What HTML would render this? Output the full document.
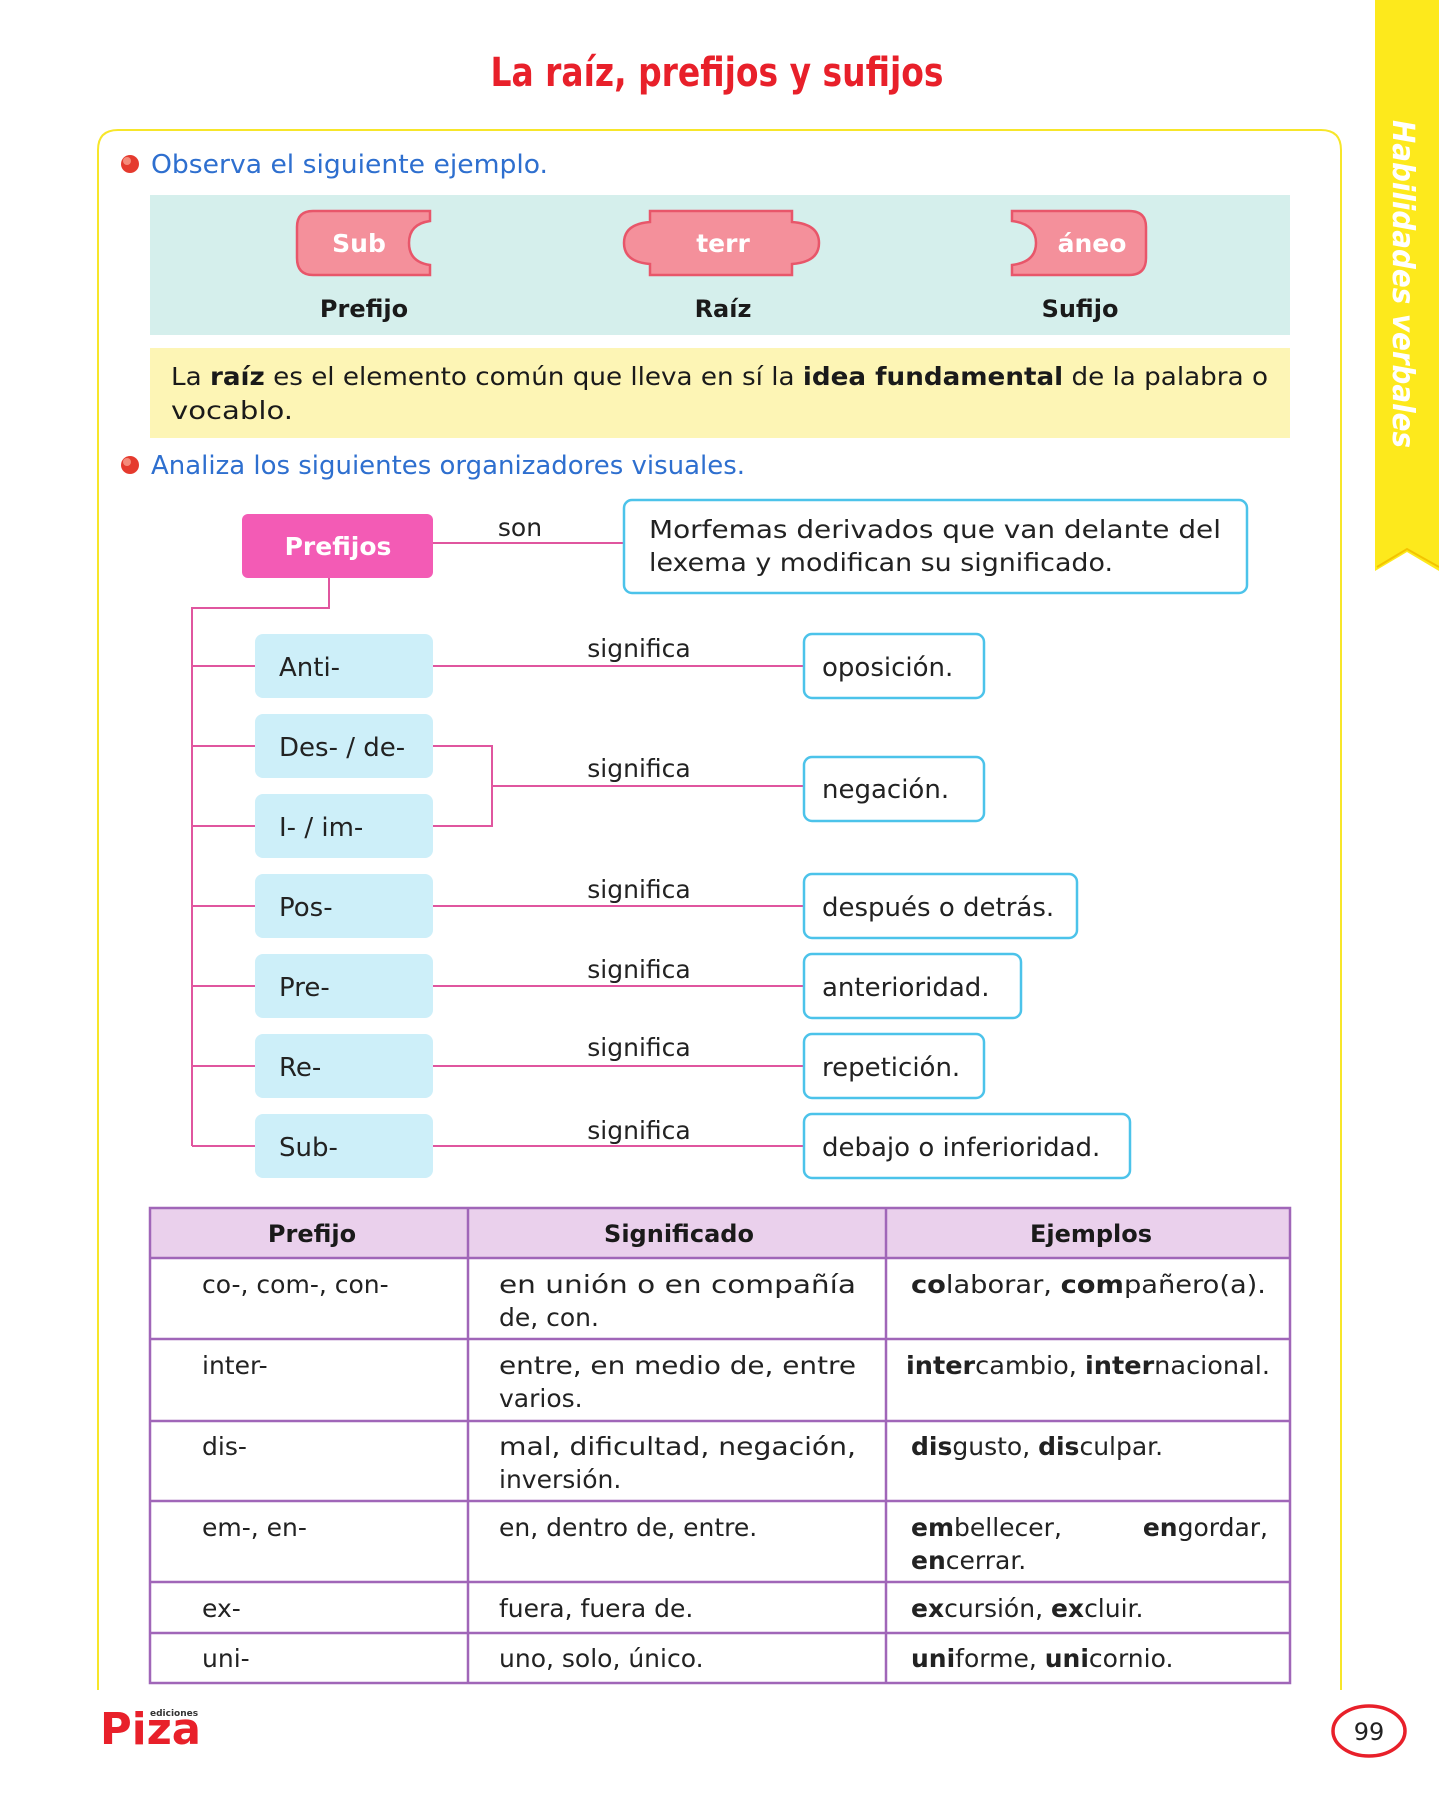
<!DOCTYPE html>
<html><head><meta charset="utf-8"><style>
html,body{margin:0;padding:0;background:#fff;}
svg{display:block;}
text{font-family:"DejaVu Sans","Liberation Sans",sans-serif;}
</style></head><body>
<svg width="1439" height="1800" viewBox="0 0 1439 1800" xmlns="http://www.w3.org/2000/svg">
<path d="M1375 0 H1439 V571 L1407 552 L1375 571 Z" fill="#fde91c"/>
<path d="M1377 567 L1407 549 L1439 567" fill="none" stroke="#f3c400" stroke-width="2"/>
<text transform="translate(1393,120) rotate(90)" font-size="30" font-weight="bold" font-style="italic" fill="#fff" textLength="328" lengthAdjust="spacingAndGlyphs">Habilidades verbales</text>

<text x="717" y="86" text-anchor="middle" font-size="40" font-weight="bold" fill="#e8202a" textLength="453" lengthAdjust="spacingAndGlyphs">La raíz, prefijos y sufijos</text>

<path d="M98 1690 V150 Q98 130 118 130 H1321 Q1341 130 1341 150 V1690" fill="none" stroke="#f7e62a" stroke-width="2"/>

<circle cx="130" cy="164" r="9" fill="#e53a2e"/><circle cx="127" cy="161" r="4" fill="#f48a7a"/>
<text x="151" y="173" font-size="26" fill="#2e6fcf" textLength="397" lengthAdjust="spacingAndGlyphs">Observa el siguiente ejemplo.</text>

<rect x="150" y="195" width="1140" height="140" fill="#d5efec"/>
<g fill="#f4909b" stroke="#e8566a" stroke-width="2.5">
<path d="M430 211 H313 Q297 211 297 227 V258 Q297 275 313 275 H430 V265 Q409 262 409 243 Q409 224 430 221 Z"/>
<path d="M650 211 H792 V222 Q819 224 819 243 Q819 262 792 264 V275 H650 V264 Q624 262 624 243 Q624 224 650 222 Z"/>
<path d="M1012 211 H1129 Q1146 211 1146 227 V258 Q1146 275 1129 275 H1012 V265 Q1036 262 1036 243 Q1036 224 1012 221 Z"/>
</g>
<g font-size="25" font-weight="bold" fill="#fff" text-anchor="middle">
<text x="359" y="252">Sub</text>
<text x="723" y="252">terr</text>
<text x="1092" y="252">áneo</text>
</g>
<g font-size="24" font-weight="bold" fill="#1a1a1a" text-anchor="middle">
<text x="364" y="317">Prefijo</text>
<text x="723" y="317">Raíz</text>
<text x="1080" y="317">Sufijo</text>
</g>

<rect x="150" y="348" width="1140" height="90" fill="#fdf5b5"/>
<text x="171" y="385" font-size="25" fill="#1a1a1a" textLength="1097" lengthAdjust="spacingAndGlyphs">La <tspan font-weight="bold">raíz</tspan> es el elemento común que lleva en sí la <tspan font-weight="bold">idea fundamental</tspan> de la palabra o</text>
<text x="171" y="419" font-size="25" fill="#1a1a1a" textLength="122" lengthAdjust="spacingAndGlyphs">vocablo.</text>

<circle cx="130" cy="465" r="9" fill="#e53a2e"/><circle cx="127" cy="462" r="4" fill="#f48a7a"/>
<text x="151" y="474" font-size="26" fill="#2e6fcf" textLength="594" lengthAdjust="spacingAndGlyphs">Analiza los siguientes organizadores visuales.</text>

<g stroke="#e0569f" stroke-width="2" fill="none">
<line x1="433" y1="543" x2="624" y2="543"/>
<polyline points="329,578 329,608 192,608 192,1146"/>
<line x1="192" y1="666" x2="255" y2="666"/>
<line x1="192" y1="746" x2="255" y2="746"/>
<line x1="192" y1="826" x2="255" y2="826"/>
<line x1="192" y1="906" x2="255" y2="906"/>
<line x1="192" y1="986" x2="255" y2="986"/>
<line x1="192" y1="1066" x2="255" y2="1066"/>
<line x1="192" y1="1146" x2="255" y2="1146"/>
<line x1="433" y1="666" x2="803" y2="666"/>
<polyline points="433,746 492,746 492,826 433,826"/>
<line x1="492" y1="786" x2="803" y2="786"/>
<line x1="433" y1="906" x2="803" y2="906"/>
<line x1="433" y1="986" x2="803" y2="986"/>
<line x1="433" y1="1066" x2="803" y2="1066"/>
<line x1="433" y1="1146" x2="803" y2="1146"/>
</g>

<rect x="242" y="514" width="191" height="64" rx="6" fill="#f35bb5"/>
<text x="338" y="555" text-anchor="middle" font-size="25" font-weight="bold" fill="#fff">Prefijos</text>
<text x="520" y="536" text-anchor="middle" font-size="25" fill="#222">son</text>
<rect x="624" y="500" width="623" height="93" rx="8" fill="#fff" stroke="#4cc3ea" stroke-width="2.5"/>
<text x="649" y="538" font-size="25" fill="#222" textLength="572" lengthAdjust="spacingAndGlyphs">Morfemas derivados que van delante del</text>
<text x="649" y="571" font-size="25" fill="#222" textLength="464" lengthAdjust="spacingAndGlyphs">lexema y modifican su significado.</text>

<g fill="#cdeff9">
<rect x="255" y="634" width="178" height="64" rx="8"/>
<rect x="255" y="714" width="178" height="64" rx="8"/>
<rect x="255" y="794" width="178" height="64" rx="8"/>
<rect x="255" y="874" width="178" height="64" rx="8"/>
<rect x="255" y="954" width="178" height="64" rx="8"/>
<rect x="255" y="1034" width="178" height="64" rx="8"/>
<rect x="255" y="1114" width="178" height="64" rx="8"/>
</g>
<g font-size="26" fill="#222">
<text x="279" y="676">Anti-</text>
<text x="279" y="756">Des- / de-</text>
<text x="279" y="836">I- / im-</text>
<text x="279" y="916">Pos-</text>
<text x="279" y="996">Pre-</text>
<text x="279" y="1076">Re-</text>
<text x="279" y="1156">Sub-</text>
</g>
<g font-size="25" fill="#222" text-anchor="middle">
<text x="639" y="657">significa</text>
<text x="639" y="777">significa</text>
<text x="639" y="898">significa</text>
<text x="639" y="978">significa</text>
<text x="639" y="1056">significa</text>
<text x="639" y="1139">significa</text>
</g>
<g fill="#fff" stroke="#4cc3ea" stroke-width="2.5">
<rect x="804" y="634" width="180" height="64" rx="8"/>
<rect x="804" y="757" width="180" height="64" rx="8"/>
<rect x="804" y="874" width="273" height="64" rx="8"/>
<rect x="804" y="954" width="217" height="64" rx="8"/>
<rect x="804" y="1034" width="180" height="64" rx="8"/>
<rect x="804" y="1114" width="326" height="64" rx="8"/>
</g>
<g font-size="26" fill="#222">
<text x="822" y="676">oposición.</text>
<text x="822" y="798">negación.</text>
<text x="822" y="916">después o detrás.</text>
<text x="822" y="996">anterioridad.</text>
<text x="822" y="1076">repetición.</text>
<text x="822" y="1156">debajo o inferioridad.</text>
</g>

<rect x="150" y="1208" width="1140" height="50" fill="#ead0ec"/>
<g stroke="#a066b8" stroke-width="2.5" fill="none">
<rect x="150" y="1208" width="1140" height="475"/>
<line x1="468" y1="1208" x2="468" y2="1683"/>
<line x1="886" y1="1208" x2="886" y2="1683"/>
<line x1="150" y1="1258" x2="1290" y2="1258"/>
<line x1="150" y1="1339" x2="1290" y2="1339"/>
<line x1="150" y1="1421" x2="1290" y2="1421"/>
<line x1="150" y1="1501" x2="1290" y2="1501"/>
<line x1="150" y1="1582" x2="1290" y2="1582"/>
<line x1="150" y1="1633" x2="1290" y2="1633"/>
</g>
<g font-size="24" font-weight="bold" fill="#1a1a1a" text-anchor="middle">
<text x="312" y="1242">Prefijo</text>
<text x="679" y="1242">Significado</text>
<text x="1091" y="1242">Ejemplos</text>
</g>
<g font-size="25" fill="#222">
<text x="202" y="1293">co-, com-, con-</text>
<text x="499" y="1293" textLength="357" lengthAdjust="spacingAndGlyphs">en unión o en compañía</text>
<text x="499" y="1326">de, con.</text>
<text x="911" y="1293" textLength="355" lengthAdjust="spacingAndGlyphs"><tspan font-weight="bold">co</tspan>laborar, <tspan font-weight="bold">com</tspan>pañero(a).</text>

<text x="202" y="1374">inter-</text>
<text x="499" y="1374" textLength="357" lengthAdjust="spacingAndGlyphs">entre, en medio de, entre</text>
<text x="499" y="1407">varios.</text>
<text x="906" y="1374" textLength="364" lengthAdjust="spacingAndGlyphs"><tspan font-weight="bold">inter</tspan>cambio, <tspan font-weight="bold">inter</tspan>nacional.</text>

<text x="202" y="1455">dis-</text>
<text x="499" y="1455" textLength="357" lengthAdjust="spacingAndGlyphs">mal, dificultad, negación,</text>
<text x="499" y="1488">inversión.</text>
<text x="911" y="1455"><tspan font-weight="bold">dis</tspan>gusto, <tspan font-weight="bold">dis</tspan>culpar.</text>

<text x="202" y="1536">em-, en-</text>
<text x="499" y="1536">en, dentro de, entre.</text>
<text x="911" y="1536"><tspan font-weight="bold">em</tspan>bellecer,</text>
<text x="1268" y="1536" text-anchor="end"><tspan font-weight="bold">en</tspan>gordar,</text>
<text x="911" y="1569"><tspan font-weight="bold">en</tspan>cerrar.</text>

<text x="202" y="1617">ex-</text>
<text x="499" y="1617">fuera, fuera de.</text>
<text x="911" y="1617"><tspan font-weight="bold">ex</tspan>cursión, <tspan font-weight="bold">ex</tspan>cluir.</text>

<text x="202" y="1667">uni-</text>
<text x="499" y="1667">uno, solo, único.</text>
<text x="911" y="1667"><tspan font-weight="bold">uni</tspan>forme, <tspan font-weight="bold">uni</tspan>cornio.</text>
</g>

<text x="100" y="1744" font-size="44" font-weight="bold" fill="#e8202a" textLength="101" lengthAdjust="spacingAndGlyphs">Piza</text>
<text x="150" y="1716" font-size="9" font-weight="bold" fill="#333">ediciones</text>
<ellipse cx="1369" cy="1731" rx="36" ry="25" fill="#fff" stroke="#e8202a" stroke-width="3.5"/>
<text x="1369" y="1740" text-anchor="middle" font-size="24" fill="#222">99</text>
</svg>
</body></html>
